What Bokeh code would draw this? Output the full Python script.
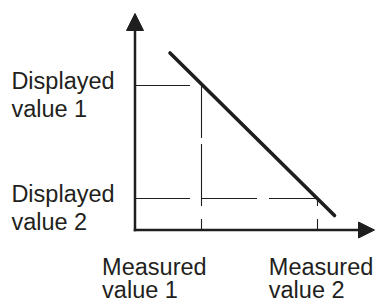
from bokeh.plotting import figure
from bokeh.models import Range1d, Arrow, NormalHead, ColumnDataSource
from bokeh.core.properties import value
from bokeh.embed import file_html
from bokeh.resources import INLINE

# ---- data (schematic units, origin at the axes' corner) ----
measured_values = [66.5, 182.5]
displayed_values = [144.5, 31.5]
line_x = [35.0, 199.5]
line_y = [177.0, 14.5]
axis_x_end = 239.5
axis_y_end = 216.5
displayed_labels = [["Displayed", "value 1"], ["Displayed", "value 2"]]
measured_labels = [["Measured", "value 1"], ["Measured", "value 2"]]

INK = "#1e1e1e"
FONT = value("Liberation Sans")

p = figure(width=378, height=302, output_backend="svg", toolbar_location=None,
           x_range=Range1d(-134.5, 243.5), y_range=Range1d(-72.5, 229.5),
           min_border=0, outline_line_color=None)
p.axis.visible = False
p.grid.visible = False
p.background_fill_color = "white"
p.border_fill_color = "white"

# guide lines: horizontals from y-axis, verticals from x-axis
for mv, dv in zip(measured_values, displayed_values):
    p.line([0, mv], [dv, dv], line_color=INK, line_width=1.1, line_dash="55 12")
    p.line([mv, mv], [0, dv], line_color=INK, line_width=1.1, line_dash="11 13 62 6 60 10")

# characteristic line
p.line(line_x, line_y, line_color=INK, line_width=3.6, line_cap="round")

# axes with arrowheads
p.add_layout(Arrow(end=NormalHead(size=16, fill_color=INK, line_color=INK, line_width=1),
                   x_start=-1.25, y_start=0, x_end=axis_x_end, y_end=0,
                   line_color=INK, line_width=2.5))
p.add_layout(Arrow(end=NormalHead(size=17, fill_color=INK, line_color=INK, line_width=1),
                   x_start=0, y_start=-1.25, x_end=0, y_end=axis_y_end,
                   line_color=INK, line_width=2.5))

# labels
tx, ty, tt = [], [], []
for lbl, dv in zip(displayed_labels, displayed_values):
    tx += [-123.6, -123.6]
    ty += [dv + 4.5, dv - 23.0]
    tt += lbl
for lbl, x0 in zip(measured_labels, [-32.9, 133.8]):
    tx += [x0, x0]
    ty += [-36.5, -59.5]
    tt += lbl
src = ColumnDataSource(dict(x=tx, y=ty, text=tt))
p.text(x="x", y="y", text="text", source=src, text_font=FONT, text_font_size="23.5px",
       text_color="#231f20", text_baseline="alphabetic", text_align="left")

open("out.html", "w").write(file_html(p, INLINE))
